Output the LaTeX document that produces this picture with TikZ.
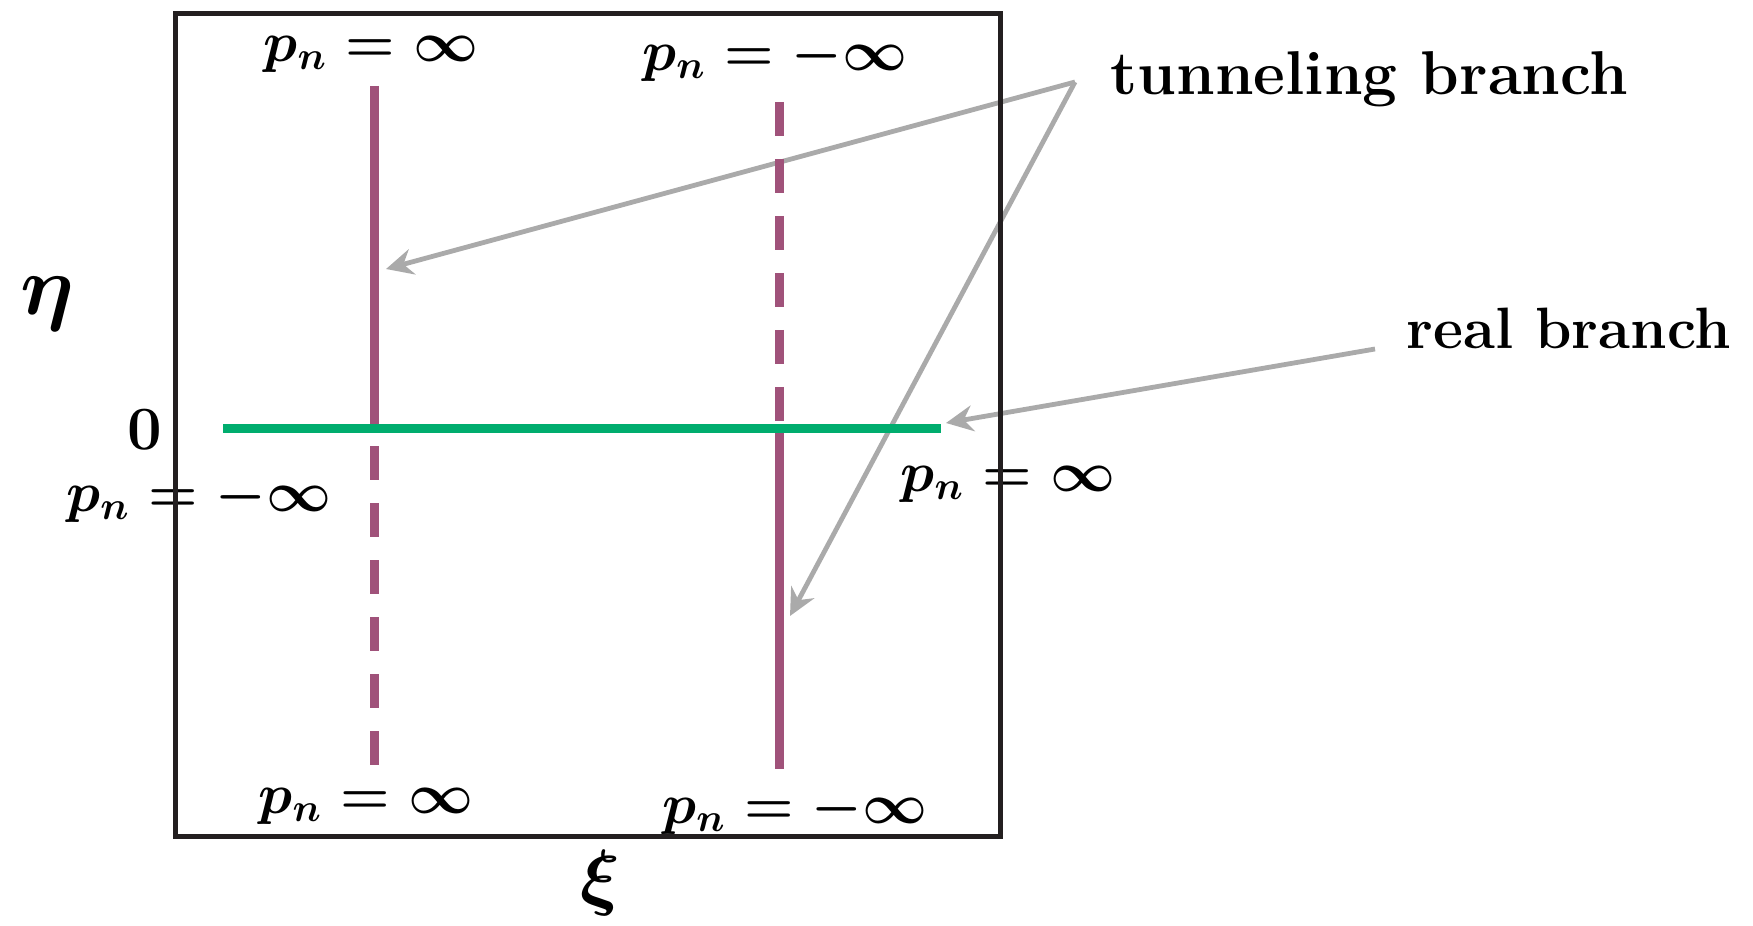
\documentclass[tikz,border=0pt]{standalone}
\usepackage{fix-cm}
\usepackage{amsmath}
\usepackage{amssymb}
\usetikzlibrary{arrows.meta}
\definecolor{branchpurple}{HTML}{A0527A}
\definecolor{branchgreen}{HTML}{00AD6E}
\definecolor{pointergray}{HTML}{AAAAAA}
\definecolor{framegray}{HTML}{231F20}
\begin{document}
\begin{tikzpicture}[x=0.1mm,y=-0.1mm]
        %
        % `tunnel' and `real' are the branch lines, `pointer' the gray arrows.
        % `plbl' is used for the p_n labels.
        \tikzstyle{tunnel} = [draw=branchpurple,line width=0.9mm]
        \tikzstyle{tunneldash} = [tunnel,dash pattern=on 3.4mm off 2.3mm]
        \tikzstyle{real} = [draw=branchgreen,line width=0.9mm]
        \tikzstyle{pointer} = [draw=pointergray,line width=0.48mm,-{Stealth[length=2.7mm,width=2.6mm,inset=0.9mm]}]
        \tikzstyle{plbl} = [inner sep=0pt,font=\fontsize{16.1}{19}\selectfont\boldmath]
        \useasboundingbox (0,0) rectangle (1753,926);
        %
        % Labels
        \node[plbl] (topl) at (371,54) {$p_n=\infty$};
        \node[plbl] (topr) at (775,58) {$p_n=-\infty$};
        \node[plbl] (botl) at (366,806) {$p_n=\infty$};
        \node[plbl] (botr) at (795,811) {$p_n=-\infty$};
        \node[plbl] (midl) at (199,499) {$p_n=-\infty$};
        \node[plbl] (midr) at (1008,484) {$p_n=\infty$};
        \node[inner sep=0pt,font=\fontsize{17.5}{20}\selectfont\boldmath] (zero) at (145,430) {$0$};
        \node[inner sep=0pt,font=\fontsize{24}{26}\selectfont\boldmath] (eta) at (47,304) {$\eta$};
        \node[inner sep=0pt,font=\fontsize{21}{24}\selectfont\boldmath] (xi) at (600,883) {$\xi$};
        \node[inner sep=0pt,anchor=base west,font=\fontsize{17.6}{20}\selectfont\bfseries] (tun) at (1110,95) {tunneling branch};
        \node[inner sep=0pt,anchor=base west,font=\fontsize{16.6}{19}\selectfont\bfseries] (rea) at (1406,348) {real branch};
        %
        % Pointer ends
        \coordinate (tunfoot) at (1075,82);
        \coordinate (realfoot) at (1375,349);
        \coordinate (tunhitl) at (386,269);
        \coordinate (tunhitr) at (790,616);
        \coordinate (realhit) at (946,423);
        %
        % Pointers
        \draw[pointer] (tunfoot) -- (tunhitl);
        \draw[pointer] (tunfoot) -- (tunhitr);
        \draw[pointer] (realfoot) -- (realhit);
        %
        % Branches
        \draw[tunnel] (374.5,86) -- (374.5,428);
        \draw[tunneldash] (374.5,446) -- (374.5,769);
        \draw[tunneldash] (779,102) -- (779,424);
        \draw[tunnel] (779,428) -- (779,769);
        \draw[real] (223,428) -- (941,428);
        %
        % Frame
        \draw[framegray,line width=0.45mm] (175.5,13.4) rectangle (1000.6,836.3);
\end{tikzpicture}
\end{document}
